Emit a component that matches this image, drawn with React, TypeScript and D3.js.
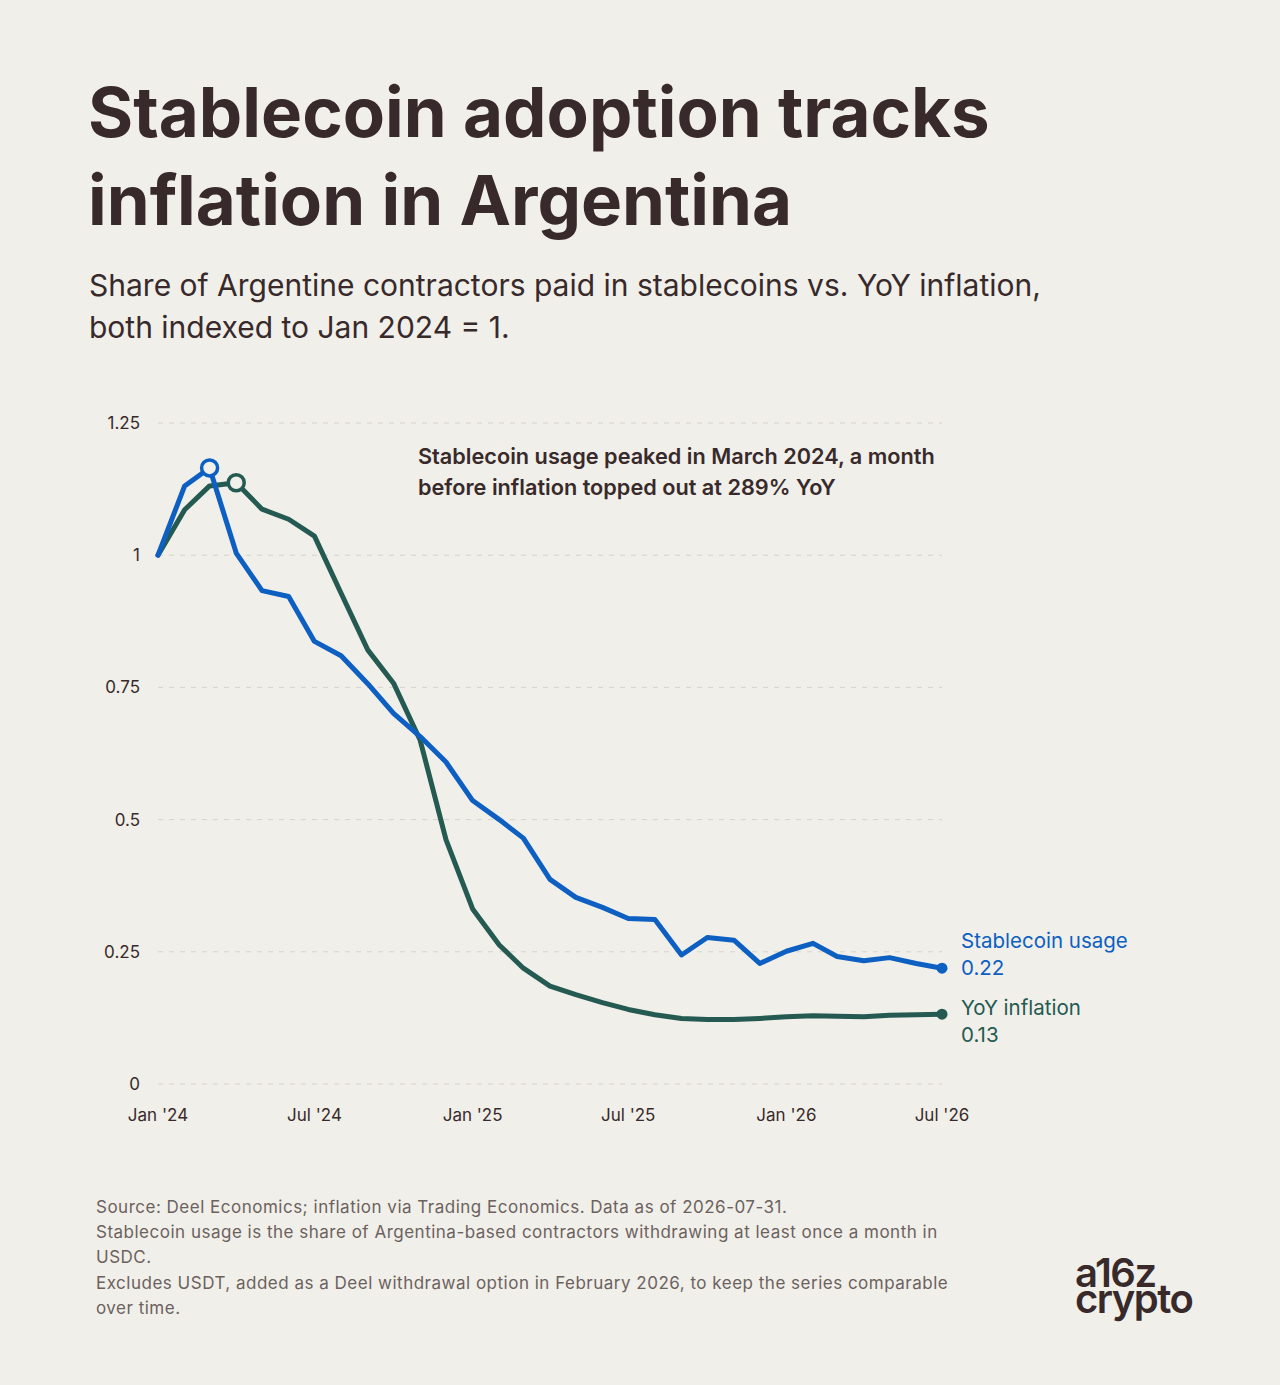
import * as d3 from 'd3'

const months = [
  '2024-01', '2024-02', '2024-03', '2024-04', '2024-05', '2024-06', '2024-07', '2024-08', '2024-09', '2024-10', '2024-11', '2024-12',
  '2025-01', '2025-02', '2025-03', '2025-04', '2025-05', '2025-06', '2025-07', '2025-08', '2025-09', '2025-10', '2025-11', '2025-12',
  '2026-01', '2026-02', '2026-03', '2026-04', '2026-05', '2026-06', '2026-07',
]

const stablecoin = [
  1.0, 1.131, 1.165, 1.004, 0.933, 0.922, 0.837, 0.81, 0.757, 0.701, 0.657, 0.609,
  0.536, 0.5, 0.465, 0.387, 0.353, 0.334, 0.313, 0.311, 0.244, 0.277, 0.272, 0.228,
  0.251, 0.266, 0.241, 0.233, 0.239, 0.228, 0.219,
]

const inflation = [
  1.0, 1.086, 1.131, 1.137, 1.087, 1.068, 1.036, 0.928, 0.821, 0.758, 0.65, 0.462,
  0.331, 0.263, 0.219, 0.185, 0.169, 0.154, 0.141, 0.131, 0.124, 0.122, 0.122, 0.124,
  0.127, 0.129, 0.128, 0.127, 0.13, 0.131, 0.132,
]

const yTicks = [0, 0.25, 0.5, 0.75, 1, 1.25]
const xTickMonths = ['2024-01', '2024-07', '2025-01', '2025-07', '2026-01', '2026-07']

const footnotes = [
  'Source: Deel Economics; inflation via Trading Economics. Data as of 2026-07-31.',
  'Stablecoin usage is the share of Argentina-based contractors withdrawing at least once a month in',
  'USDC.',
  'Excludes USDT, added as a Deel withdrawal option in February 2026, to keep the series comparable',
  'over time.',
]

const W = 1280
const H = 1385
const BG = '#f1efe9'
const INK = '#382a2b'
const BLUE = '#0d5fc2'
const GREEN = '#245a51'
const FONT = 'Inter, "Noto Sans", sans-serif'

const parse = d3.timeParse('%Y-%m')
const fmtTick = (d: Date) => d3.timeFormat('%b')(d) + " '" + d3.timeFormat('%y')(d)

export default function App() {
  const dates = months.map((m) => parse(m) as Date)
  const x = d3.scaleTime().domain([dates[0], dates[dates.length - 1]]).range([158, 942])
  const y = d3.scaleLinear().domain([0, 1.25]).range([1084, 423])

  const line = d3
    .line<number>()
    .x((_, i) => x(dates[i]))
    .y((d) => y(d))

  const peakS = stablecoin.indexOf(d3.max(stablecoin) as number)
  const peakI = inflation.indexOf(d3.max(inflation) as number)
  const last = months.length - 1

  return (
    <>
      <style>{'body{margin:0;background:' + BG + '}'}</style>
      <svg width={W} height={H} style={{ display: 'block', background: BG, fontFamily: FONT }}>
        <rect width={W} height={H} fill={BG} />

        {/* title */}
        <text fill={INK} fontSize={69} fontWeight={700}>
          <tspan x={88} y={137}>Stablecoin adoption tracks</tspan>
          <tspan x={88} y={225}>inflation in Argentina</tspan>
        </text>
        <text fill={INK} fontSize={30} fontWeight={400}>
          <tspan x={89} y={296}>Share of Argentine contractors paid in stablecoins vs. YoY inflation,</tspan>
          <tspan x={89} y={338}>both indexed to Jan 2024 = 1.</tspan>
        </text>

        {/* grid + y ticks */}
        {yTicks.map((t) => (
          <g key={t}>
            <line x1={158} x2={942} y1={y(t)} y2={y(t)} stroke="#d6d3cc" strokeWidth={1} strokeDasharray="5 6" />
            <text x={140} y={y(t)} dy="0.35em" textAnchor="end" fontSize={17} fill={INK}>
              {d3.format('~g')(t)}
            </text>
          </g>
        ))}

        {/* x ticks */}
        {xTickMonths.map((m) => {
          const d = parse(m) as Date
          return (
            <text key={m} x={x(d)} y={1121} textAnchor="middle" fontSize={17} fill={INK}>
              {fmtTick(d)}
            </text>
          )
        })}

        {/* annotation */}
        <text fill={INK} fontSize={21.7} fontWeight={600}>
          <tspan x={418} y={464}>Stablecoin usage peaked in March 2024, a month</tspan>
          <tspan x={418} y={495}>before inflation topped out at 289% YoY</tspan>
        </text>

        {/* lines */}
        <path d={line(inflation) as string} fill="none" stroke={GREEN} strokeWidth={5} strokeLinejoin="round" strokeLinecap="round" />
        <path d={line(stablecoin) as string} fill="none" stroke={BLUE} strokeWidth={5} strokeLinejoin="round" strokeLinecap="round" />

        {/* peak markers */}
        <circle cx={x(dates[peakI])} cy={y(inflation[peakI])} r={8} fill={BG} stroke={GREEN} strokeWidth={3.5} />
        <circle cx={x(dates[peakS])} cy={y(stablecoin[peakS])} r={8} fill={BG} stroke={BLUE} strokeWidth={3.5} />

        {/* end markers + labels */}
        <circle cx={x(dates[last])} cy={y(stablecoin[last])} r={5.5} fill={BLUE} />
        <circle cx={x(dates[last])} cy={y(inflation[last])} r={5.5} fill={GREEN} />
        <text fill={BLUE} fontSize={20.5}>
          <tspan x={961} y={948}>Stablecoin usage</tspan>
          <tspan x={961} y={975}>{d3.format('.2f')(stablecoin[last])}</tspan>
        </text>
        <text fill={GREEN} fontSize={20.5}>
          <tspan x={961} y={1015}>YoY inflation</tspan>
          <tspan x={961} y={1042}>{d3.format('.2f')(inflation[last])}</tspan>
        </text>

        {/* footnotes */}
        <text fill="#6b6260" fontSize={17} letterSpacing={0.5}>
          {footnotes.map((f, i) => (
            <tspan key={i} x={96} y={1213 + i * 25.2}>
              {f}
            </tspan>
          ))}
        </text>

        {/* logo */}
        <text fill={INK} fontSize={40} fontWeight={600} letterSpacing={-1.5}>
          <tspan x={1075} y={1287}>a16z</tspan>
          <tspan x={1075} y={1313}>crypto</tspan>
        </text>
      </svg>
    </>
  )
}
